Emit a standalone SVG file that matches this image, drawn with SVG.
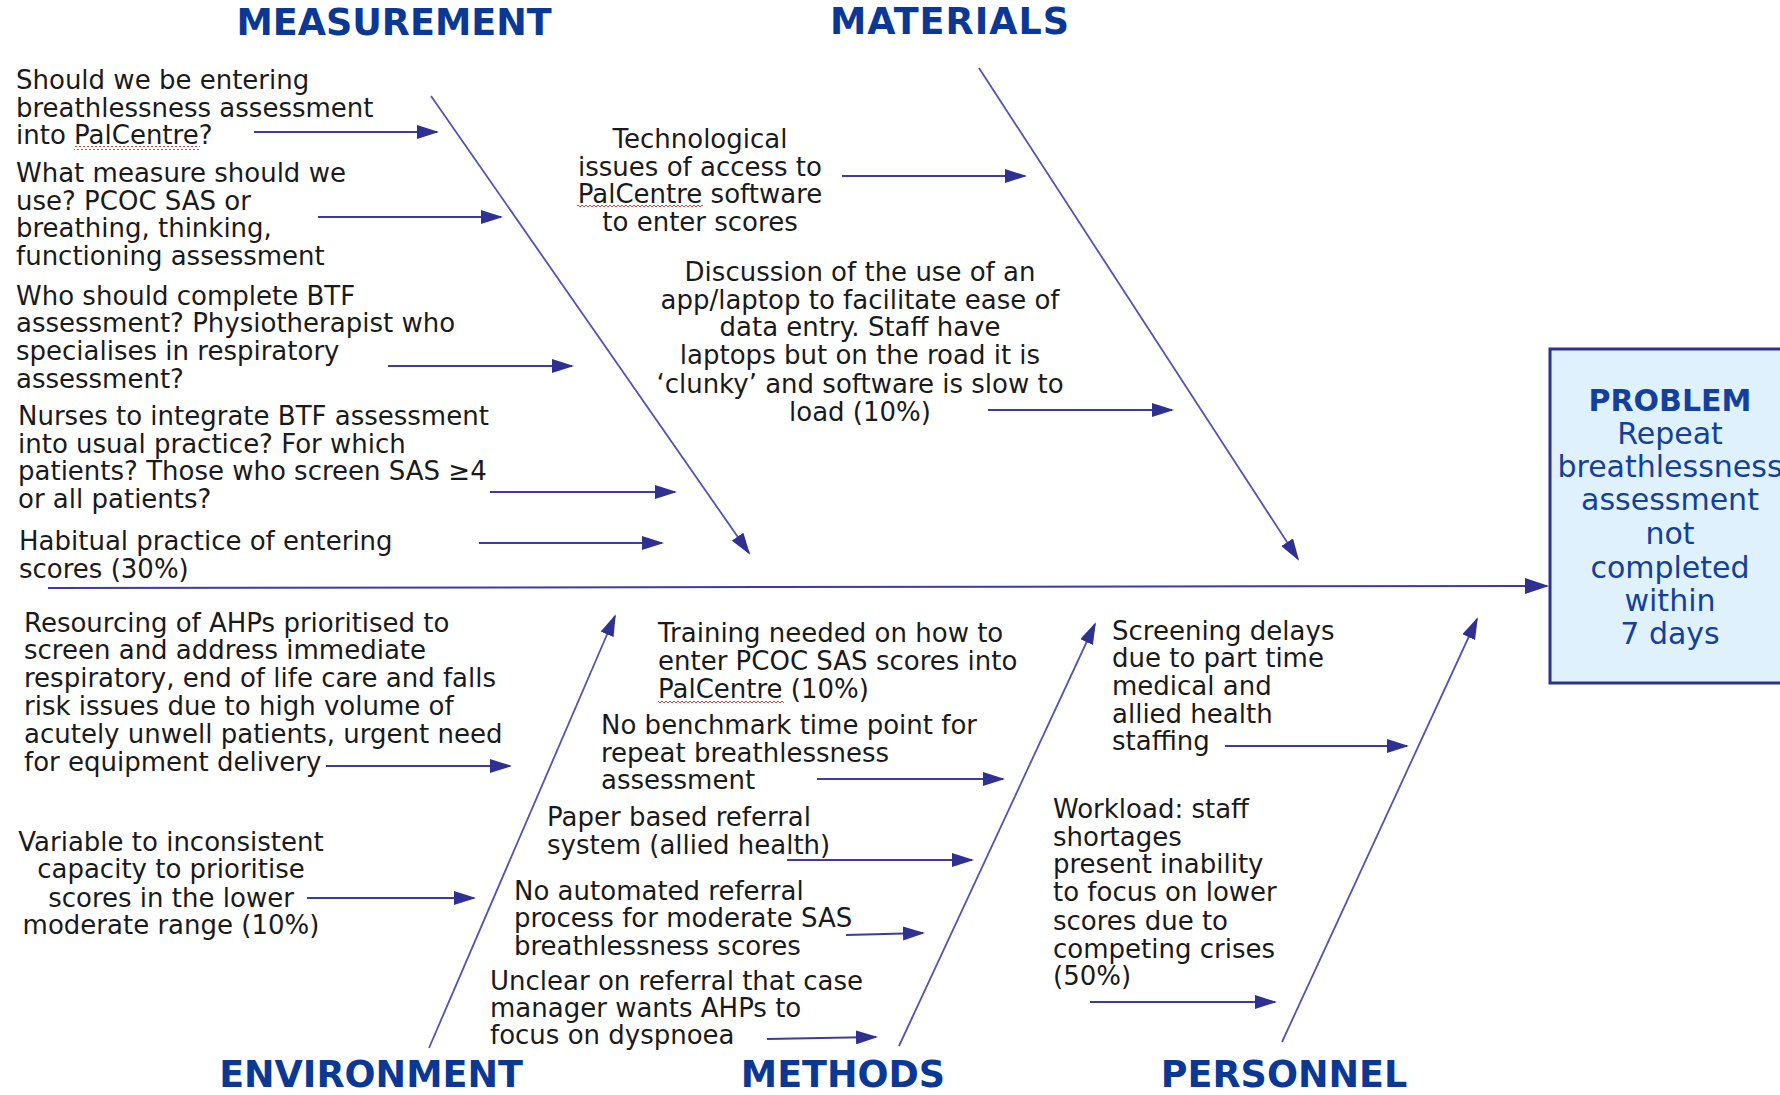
<svg xmlns="http://www.w3.org/2000/svg" width="1780" height="1095" viewBox="0 0 1780 1095">
<style>
.t{font-family:"DejaVu Sans","Verdana",sans-serif;font-size:26px;fill:#1a1a1a}
.c{text-anchor:middle}
.ti{font-family:"DejaVu Sans","Verdana",sans-serif;font-size:36.5px;font-weight:bold;fill:#0b3795;text-anchor:middle}
.bone{stroke:#5252b4;stroke-width:1.8;fill:none}
.arr{stroke:#3b3ba6;stroke-width:2;fill:none}
.pb{font-family:"DejaVu Sans","Verdana",sans-serif;font-size:30px;fill:#143f9a;text-anchor:middle}
</style>
<defs>
<marker id="ah" markerUnits="userSpaceOnUse" viewBox="0 0 22 14" markerWidth="22" markerHeight="14" refX="20" refY="7" orient="auto"><path d="M0,0 L22,7 L0,14 z" fill="#2e3192"/></marker>
<marker id="ahb" markerUnits="userSpaceOnUse" viewBox="0 0 24 16" markerWidth="24" markerHeight="16" refX="22" refY="8" orient="auto"><path d="M0,0 L24,8 L0,16 z" fill="#2e3192"/></marker>
<pattern id="sq" width="4" height="4" patternUnits="userSpaceOnUse"><path d="M0,3 L2,1 L4,3" stroke="#e23b3b" stroke-width="1" fill="none"/></pattern>
</defs>
<rect width="1780" height="1095" fill="#ffffff"/>

<g id="problem">
<rect x="1550" y="349" width="240" height="334" fill="#dff1fd" stroke="#2e3192" stroke-width="3"/>
<text class="pb" x="1670" y="411" font-weight="bold" fill="#002d8a">PROBLEM</text>
<text class="pb" x="1670" y="444">Repeat</text>
<text class="pb" x="1670" y="477">breathlessness</text>
<text class="pb" x="1670" y="510">assessment</text>
<text class="pb" x="1670" y="544">not</text>
<text class="pb" x="1670" y="578">completed</text>
<text class="pb" x="1670" y="611">within</text>
<text class="pb" x="1670" y="644">7 days</text>
</g>

<g id="titles">
<text id="t-measurement" class="ti" x="394" y="35">MEASUREMENT</text>
<text id="t-materials" class="ti" x="950" y="34" letter-spacing="1">MATERIALS</text>
<text id="t-environment" class="ti" x="371" y="1087">ENVIRONMENT</text>
<text id="t-methods" class="ti" x="843" y="1087">METHODS</text>
<text id="t-personnel" class="ti" x="1284" y="1087">PERSONNEL</text>
</g>

<g id="connectors">
<line class="arr" x1="48" y1="588" x2="1547" y2="586" stroke-width="3" stroke="#2e3192" marker-end="url(#ahb)"/>
<line class="bone" x1="431" y1="96" x2="749" y2="553" marker-end="url(#ah)"/>
<line class="bone" x1="979" y1="68" x2="1298" y2="559" marker-end="url(#ah)"/>
<line class="bone" x1="429" y1="1048" x2="615" y2="616" marker-end="url(#ah)"/>
<line class="bone" x1="899" y1="1046" x2="1095" y2="624" marker-end="url(#ah)"/>
<line class="bone" x1="1282" y1="1042" x2="1477" y2="619" marker-end="url(#ah)"/>
<line class="arr" x1="254" y1="132" x2="437" y2="132" marker-end="url(#ah)"/>
<line class="arr" x1="318" y1="217" x2="501" y2="217" marker-end="url(#ah)"/>
<line class="arr" x1="388" y1="366" x2="572" y2="366" marker-end="url(#ah)"/>
<line class="arr" x1="490" y1="492" x2="675" y2="492" marker-end="url(#ah)"/>
<line class="arr" x1="479" y1="543" x2="662" y2="543" marker-end="url(#ah)"/>
<line class="arr" x1="842" y1="176" x2="1025" y2="176" marker-end="url(#ah)"/>
<line class="arr" x1="988" y1="410" x2="1172" y2="410" marker-end="url(#ah)"/>
<line class="arr" x1="326" y1="766" x2="510" y2="766" marker-end="url(#ah)"/>
<line class="arr" x1="307" y1="898" x2="474" y2="898" marker-end="url(#ah)"/>
<line class="arr" x1="817" y1="779" x2="1003" y2="779" marker-end="url(#ah)"/>
<line class="arr" x1="787" y1="860" x2="972" y2="860" marker-end="url(#ah)"/>
<line class="arr" x1="846" y1="935" x2="923" y2="933" marker-end="url(#ah)"/>
<line class="arr" x1="767" y1="1039" x2="876" y2="1037" marker-end="url(#ah)"/>
<line class="arr" x1="1225" y1="746" x2="1407" y2="746" marker-end="url(#ah)"/>
<line class="arr" x1="1090" y1="1002" x2="1275" y2="1002" marker-end="url(#ah)"/>
</g>

<g id="m1">
<text class="t" x="16" y="89">Should we be entering</text>
<text class="t" x="16" y="117">breathlessness assessment</text>
<text class="t" x="16" y="144">into PalCentre?</text>
<rect x="74" y="146" width="126" height="4" fill="url(#sq)"/>
</g>
<g id="m2">
<text class="t" x="16" y="182">What measure should we</text>
<text class="t" x="16" y="210">use? PCOC SAS or</text>
<text class="t" x="16" y="237">breathing, thinking,</text>
<text class="t" x="16" y="265">functioning assessment</text>
</g>
<g id="m3">
<text class="t" x="16" y="305">Who should complete BTF</text>
<text class="t" x="16" y="332">assessment? Physiotherapist who</text>
<text class="t" x="16" y="360">specialises in respiratory</text>
<text class="t" x="16" y="388">assessment?</text>
</g>
<g id="m4">
<text class="t" x="18" y="425">Nurses to integrate BTF assessment</text>
<text class="t" x="18" y="453">into usual practice? For which</text>
<text class="t" x="18" y="480">patients? Those who screen SAS ≥4</text>
<text class="t" x="18" y="508">or all patients?</text>
</g>
<g id="m5">
<text class="t" x="19" y="550">Habitual practice of entering</text>
<text class="t" x="19" y="578">scores (30%)</text>
</g>

<g id="mat1">
<text class="t c" x="700" y="148">Technological</text>
<text class="t c" x="700" y="176">issues of access to</text>
<text class="t c" x="700" y="203">PalCentre software</text>
<text class="t c" x="700" y="231">to enter scores</text>
<rect x="577" y="205" width="126" height="4" fill="url(#sq)"/>
</g>
<g id="mat2">
<text class="t c" x="860" y="281">Discussion of the use of an</text>
<text class="t c" x="860" y="309">app/laptop to facilitate ease of</text>
<text class="t c" x="860" y="336">data entry. Staff have</text>
<text class="t c" x="860" y="364">laptops but on the road it is</text>
<text class="t c" x="860" y="393">‘clunky’ and software is slow to</text>
<text class="t c" x="860" y="421">load (10%)</text>
</g>

<g id="e1">
<text class="t" x="24" y="632">Resourcing of AHPs prioritised to</text>
<text class="t" x="24" y="659">screen and address immediate</text>
<text class="t" x="24" y="687">respiratory, end of life care and falls</text>
<text class="t" x="24" y="715">risk issues due to high volume of</text>
<text class="t" x="24" y="743">acutely unwell patients, urgent need</text>
<text class="t" x="24" y="771">for equipment delivery</text>
</g>
<g id="e2">
<text class="t c" x="171" y="851">Variable to inconsistent</text>
<text class="t c" x="171" y="878">capacity to prioritise</text>
<text class="t c" x="171" y="907">scores in the lower</text>
<text class="t c" x="171" y="934">moderate range (10%)</text>
</g>

<g id="me1">
<text class="t" x="658" y="642">Training needed on how to</text>
<text class="t" x="658" y="670">enter PCOC SAS scores into</text>
<text class="t" x="658" y="698">PalCentre (10%)</text>
<rect x="658" y="700" width="126" height="4" fill="url(#sq)"/>
</g>
<g id="me2">
<text class="t" x="601" y="734">No benchmark time point for</text>
<text class="t" x="601" y="762">repeat breathlessness</text>
<text class="t" x="601" y="789">assessment</text>
</g>
<g id="me3">
<text class="t" x="547" y="826">Paper based referral</text>
<text class="t" x="547" y="854">system (allied health)</text>
</g>
<g id="me4">
<text class="t" x="514" y="900">No automated referral</text>
<text class="t" x="514" y="927">process for moderate SAS</text>
<text class="t" x="514" y="955">breathlessness scores</text>
</g>
<g id="me5">
<text class="t" x="490" y="990">Unclear on referral that case</text>
<text class="t" x="490" y="1017">manager wants AHPs to</text>
<text class="t" x="490" y="1044">focus on dyspnoea</text>
</g>

<g id="p1">
<text class="t" x="1112" y="640">Screening delays</text>
<text class="t" x="1112" y="667">due to part time</text>
<text class="t" x="1112" y="695">medical and</text>
<text class="t" x="1112" y="723">allied health</text>
<text class="t" x="1112" y="750">staffing</text>
</g>
<g id="p2">
<text class="t" x="1053" y="818">Workload: staff</text>
<text class="t" x="1053" y="846">shortages</text>
<text class="t" x="1053" y="873">present inability</text>
<text class="t" x="1053" y="901">to focus on lower</text>
<text class="t" x="1053" y="930">scores due to</text>
<text class="t" x="1053" y="958">competing crises</text>
<text class="t" x="1053" y="985">(50%)</text>
</g>
</svg>
